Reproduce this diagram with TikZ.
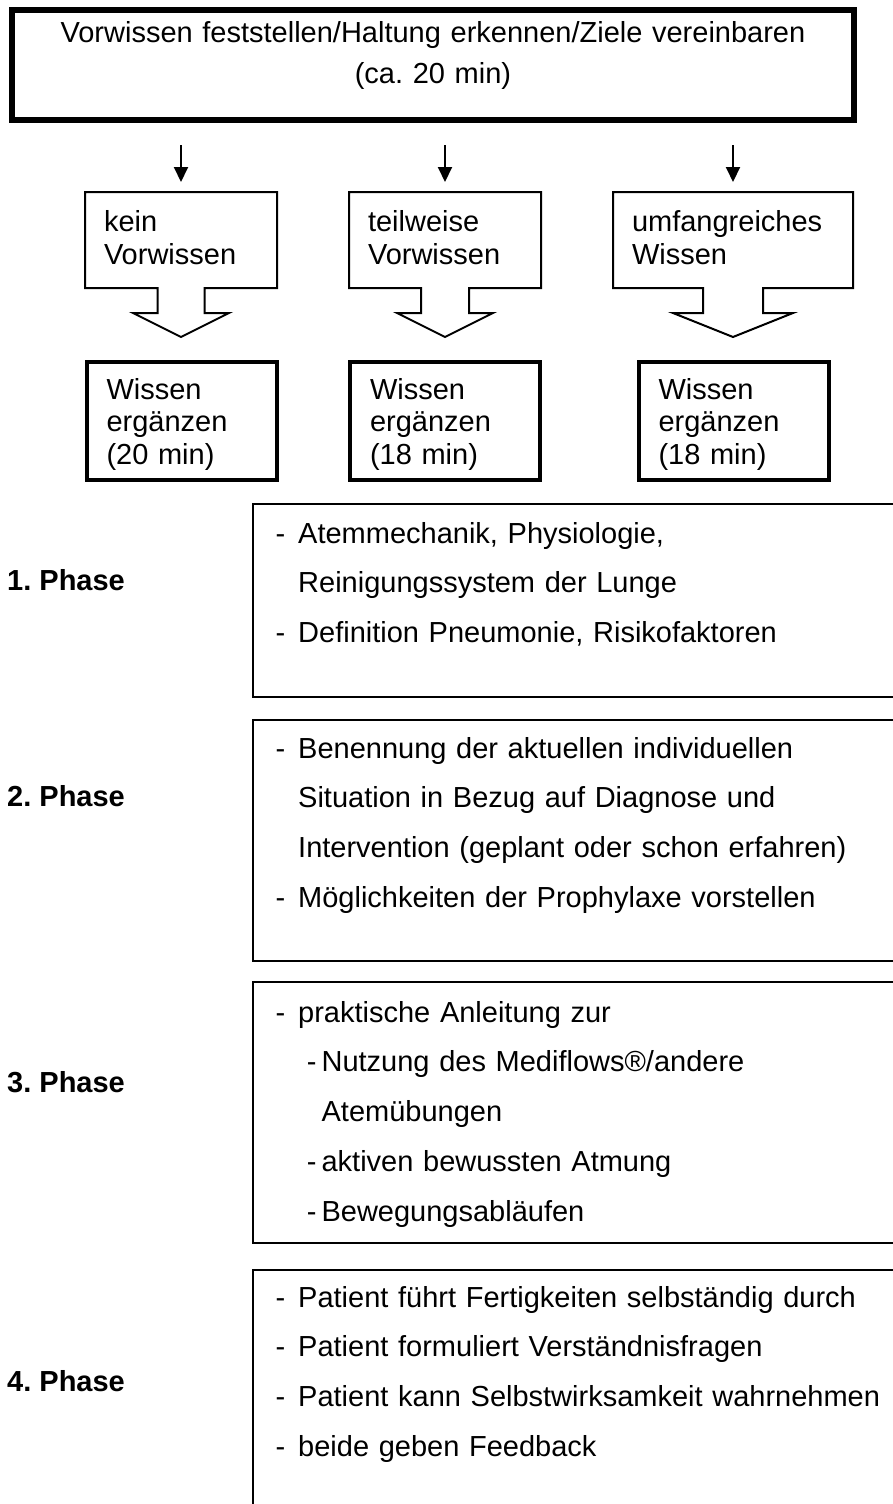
\documentclass[tikz,border=0pt]{standalone}
\usepackage{fontspec}
\setmainfont{Liberation Sans}
\usetikzlibrary{arrows.meta, calc}
\frenchspacing

\newcommand{\itm}{\makebox[22.6pt][l]{-}}
\newcommand{\subitm}{\hspace*{31.3pt}\makebox[14.7pt][l]{-}}
\newcommand{\blockarrow}[3]{%
  \draw[outl] ($(#1.south)+(-#2,0)$) -- (#1.south west) -- (#1.north west) -- (#1.north east) -- (#1.south east)
    -- ($(#1.south)+(#2,0)$) -- ($(#1.south)+(#2,25)$) -- ($(#1.south)+(#3,25)$) -- ($(#1.south)+(0,49)$)
    -- ($(#1.south)+(-#3,25)$) -- ($(#1.south)+(-#2,25)$) -- cycle;}

\begin{document}
\begin{tikzpicture}[x=1pt, y=-1pt,
  topbox/.style={draw, line width=6pt, text width=842pt, inner xsep=0pt, inner ysep=0pt, align=center, text height=33pt, text depth=77pt, font=\fontsize{29}{40}\selectfont},
  know/.style={outer sep=0pt, inner xsep=19pt, inner ysep=0pt, text height=39pt, text depth=57pt, align=left, font=\fontsize{29}{33}\selectfont},
  outl/.style={line width=2pt, line join=miter},
  fill in/.style={draw, line width=4pt, inner xsep=20pt, inner ysep=0pt, text width=150pt, text height=37pt, text depth=81pt, align=left, font=\fontsize{29}{32.5}\selectfont},
  pbox/.style={draw, line width=2pt, outer sep=0pt, inner sep=0pt, anchor=north west, minimum width=700pt},
  ptext/.style={anchor=base west, inner sep=0pt, text width=610pt, align=left, font=\fontsize{29}{49.8}\selectfont},
  phase/.style={anchor=base west, inner sep=0pt, font=\fontsize{29}{35}\selectfont\bfseries},
  arr/.style={-{Triangle[width=14pt,length=15pt]}, line width=2pt}
]
\useasboundingbox (0,0) rectangle (893,1504);
\clip (0,0) rectangle (893,1504);

\node[topbox] (start) at (433,65) {Vorwissen feststellen/Haltung erkennen/Ziele vereinbaren\\(ca. 20 min)};

\node[know, text width=154pt] (k1) at (181,240) {kein\\Vorwissen};
\node[know, text width=154pt] (k2) at (445,240) {teilweise\\Vorwissen};
\node[know, text width=202pt] (k3) at (733,240) {umfangreiches\\Wissen};
\blockarrow{k1}{23.5}{48}
\blockarrow{k2}{24}{48}
\blockarrow{k3}{30}{60}

\draw[arr, shorten <=22pt, shorten >=10pt] (start.south -| k1.north) -- (k1.north);
\draw[arr, shorten <=22pt, shorten >=10pt] (start.south -| k2.north) -- (k2.north);
\draw[arr, shorten <=22pt, shorten >=10pt] (start.south -| k3.north) -- (k3.north);

\node[fill in] (w1) at (181.5,421) {Wissen\\ergänzen\\(20 min)};
\node[fill in] (w2) at (445,421) {Wissen\\ergänzen\\(18 min)};
\node[fill in] (w3) at (733.5,421) {Wissen\\ergänzen\\(18 min)};

\node[phase] (ph1) at (7,590) {1. Phase};
\node[pbox, minimum height=193pt] (b1) at (253,504) {};
\node[ptext] (t1) at (275.4,543) {\itm Atemmechanik, Physiologie,\\
  \hspace*{22.6pt}Reinigungssystem der Lunge\\
  \itm Definition Pneumonie, Risikofaktoren};

\node[phase] (ph2) at (7,806) {2. Phase};
\node[pbox, minimum height=241pt] (b2) at (253,720) {};
\node[ptext] (t2) at (275.4,758) {\itm Benennung der aktuellen individuellen\\
  \hspace*{22.6pt}Situation in Bezug auf Diagnose und\\
  \hspace*{22.6pt}Intervention (geplant oder schon erfahren)\\
  \itm Möglichkeiten der Prophylaxe vorstellen};

\node[phase] (ph3) at (7,1092) {3. Phase};
\node[pbox, minimum height=261pt] (b3) at (253,982) {};
\node[ptext] (t3) at (275.4,1022) {\itm praktische Anleitung zur\\
  \subitm Nutzung des Mediflows®/andere\\
  \hspace*{46pt}Atemübungen\\
  \subitm aktiven bewussten Atmung\\
  \subitm Bewegungsabläufen};

\node[phase] (ph4) at (7,1391) {4. Phase};
\node[pbox, minimum height=300pt] (b4) at (253,1270) {};
\node[ptext] (t4) at (275.4,1307) {\itm Patient führt Fertigkeiten selbständig durch\\
  \itm Patient formuliert Verständnisfragen\\
  \itm Patient kann Selbstwirksamkeit wahrnehmen\\
  \itm beide geben Feedback};

\end{tikzpicture}
\end{document}
